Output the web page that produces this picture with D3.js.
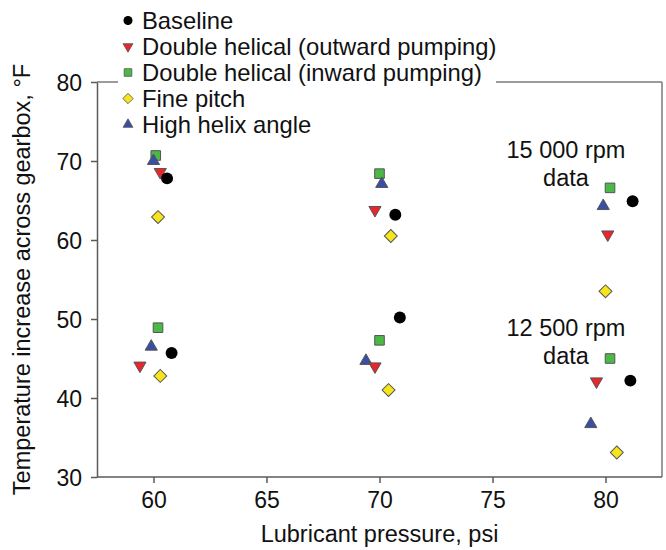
<!DOCTYPE html>
<html>
<head>
<meta charset="utf-8">
<script src="https://cdn.jsdelivr.net/npm/d3@7"></script>
<style>
  html, body { margin: 0; padding: 0; background: #fff; }
  svg { display: block; }
  text { font-family: "Liberation Sans", Arial, Helvetica, sans-serif; fill: #111; }
</style>
</head>
<body>
<svg id="chart" width="666" height="550"></svg>
<script>
// ---- Data ----
const seriesNames = ["Baseline", "Double helical (outward pumping)", "Double helical (inward pumping)", "Fine pitch", "High helix angle"];
// first three points: 15 000 rpm data, last three: 12 500 rpm data
const baselinePressure = [60.6, 70.7, 81.2, 60.8, 70.9, 81.1];
const baselineTemp     = [67.8, 63.2, 64.9, 45.7, 50.2, 42.2];
const outwardPressure  = [60.3, 69.8, 80.1, 59.4, 69.8, 79.6];
const outwardTemp      = [68.6, 63.8, 60.7, 44.1, 44.0, 42.1];
const inwardPressure   = [60.1, 70.0, 80.2, 60.2, 70.0, 80.2];
const inwardTemp       = [70.7, 68.4, 66.6, 48.9, 47.3, 45.0];
const finePressure     = [60.2, 70.5, 80.0, 60.3, 70.4, 80.5];
const fineTemp         = [62.9, 60.5, 53.5, 42.8, 41.0, 33.1];
const helixPressure    = [60.0, 70.1, 79.9, 59.9, 69.4, 79.35];
const helixTemp        = [70.0, 67.1, 64.3, 46.5, 44.7, 36.7];
const xTicks = [60, 65, 70, 75, 80];
const yTicks = [30, 40, 50, 60, 70, 80];
const annotations = [["15 000 rpm", "data"], ["12 500 rpm", "data"]];
const annotationAt = [[78.25, 70.4], [78.25, 47.85]];

// ---- Styles ----
const styles = [
  { type: "circle",   fill: "#000000", stroke: "none",    size: 112, lsize: 64 },
  { type: "down",     fill: "#e8262b", stroke: "#555555", size: 64,  lsize: 42 },
  { type: "square",   fill: "#4cb848", stroke: "#555555", size: 92,  lsize: 58 },
  { type: "diamond",  fill: "#f6e41c", stroke: "#555555", size: 84,  lsize: 54 },
  { type: "up",       fill: "#3a4ea3", stroke: "#555555", size: 64,  lsize: 42 }
];
const pressures = [baselinePressure, outwardPressure, inwardPressure, finePressure, helixPressure];
const temps = [baselineTemp, outwardTemp, inwardTemp, fineTemp, helixTemp];
const drawOrder = [2, 4, 1, 0, 3];

const svg = d3.select("#chart");
const margin = { left: 97, right: 4, top: 82, bottom: 73 };
const W = 666, H = 550;
const x = d3.scaleLinear().domain([57.5, 82.5]).range([margin.left, W - margin.right]);
const y = d3.scaleLinear().domain([30, 80]).range([H - margin.bottom, margin.top]);

function symbolPath(type, size) {
  if (type === "circle") return d3.symbol(d3.symbolCircle, size)();
  if (type === "square") return d3.symbol(d3.symbolSquare, size)();
  if (type === "diamond") return d3.symbol(d3.symbolSquare, size)();
  return d3.symbol(d3.symbolTriangle, size)();
}
function symbolRotate(type) {
  if (type === "down") return 180;
  if (type === "diamond") return 45;
  return 0;
}

const font = 23;
const axisColor = "#5a5a5a";

// frame (top & right)
svg.append("line").attr("x1", x.range()[0]).attr("x2", x.range()[1])
  .attr("y1", y.range()[1]).attr("y2", y.range()[1])
  .attr("stroke", "#7a7a7a").attr("stroke-width", 1.5);
svg.append("line").attr("x1", x.range()[1]).attr("x2", x.range()[1])
  .attr("y1", y.range()[1]).attr("y2", y.range()[0])
  .attr("stroke", "#7a7a7a").attr("stroke-width", 1.5);

// axes
const xAxis = svg.append("g").attr("transform", `translate(0,${y.range()[0]})`)
  .call(d3.axisBottom(x).tickValues(xTicks).tickSize(6).tickPadding(9).tickSizeOuter(0));
const yAxis = svg.append("g").attr("transform", `translate(${x.range()[0]},0)`)
  .call(d3.axisLeft(y).tickValues(yTicks).tickSize(6).tickPadding(9).tickSizeOuter(0));
[xAxis, yAxis].forEach(a => {
  a.select(".domain").attr("stroke", axisColor).attr("stroke-width", 1.5);
  a.selectAll(".tick line").attr("stroke", axisColor).attr("stroke-width", 1.5);
  a.selectAll(".tick text").attr("font-size", font).attr("fill", "#111")
    .attr("font-family", '"Liberation Sans", Arial, sans-serif');
});
yAxis.selectAll(".tick text").attr("dy", "0.36em");
xAxis.select(".domain").attr("d", `M${x.range()[0]},0H${x.range()[1]}`);

// axis labels
svg.append("text").attr("x", (x.range()[0] + x.range()[1]) / 2).attr("y", 542)
  .attr("text-anchor", "middle").attr("font-size", 23.5).text("Lubricant pressure, psi");
svg.append("text")
  .attr("transform", `translate(30,${(y.range()[0] + y.range()[1]) / 2}) rotate(-90)`)
  .attr("text-anchor", "middle").attr("font-size", 23.5)
  .text("Temperature increase across gearbox, \u00B0F");

// annotations
annotations.forEach((lines, i) => {
  const t = svg.append("text").attr("text-anchor", "middle").attr("font-size", 23.5);
  lines.forEach((ln, j) => {
    t.append("tspan").attr("x", x(annotationAt[i][0]))
      .attr("y", y(annotationAt[i][1]) + j * 28).text(ln);
  });
});

// points
drawOrder.forEach(si => {
  const st = styles[si];
  svg.append("g").selectAll("path")
    .data(pressures[si].map((p, k) => ({ p, t: temps[si][k] })))
    .join("path")
    .attr("d", symbolPath(st.type, st.size))
    .attr("transform", d => `translate(${x(d.p)},${y(d.t)}) rotate(${symbolRotate(st.type)})`)
    .attr("fill", st.fill)
    .attr("stroke", st.stroke)
    .attr("stroke-width", 1);
});

// legend
const legend = svg.append("g");
legend.append("rect").attr("x", 118).attr("y", 4).attr("width", 378).attr("height", 134).attr("fill", "#fff");
seriesNames.forEach((name, i) => {
  const st = styles[i];
  const cy = 20.5 + i * 26;
  legend.append("path")
    .attr("d", symbolPath(st.type, st.lsize))
    .attr("transform", `translate(128,${cy}) rotate(${symbolRotate(st.type)})`)
    .attr("fill", st.fill).attr("stroke", st.stroke).attr("stroke-width", 0.8);
  legend.append("text").attr("x", 142).attr("y", cy).attr("dy", "0.35em")
    .attr("font-size", 23.8).text(name);
});
</script>
</body>
</html>
